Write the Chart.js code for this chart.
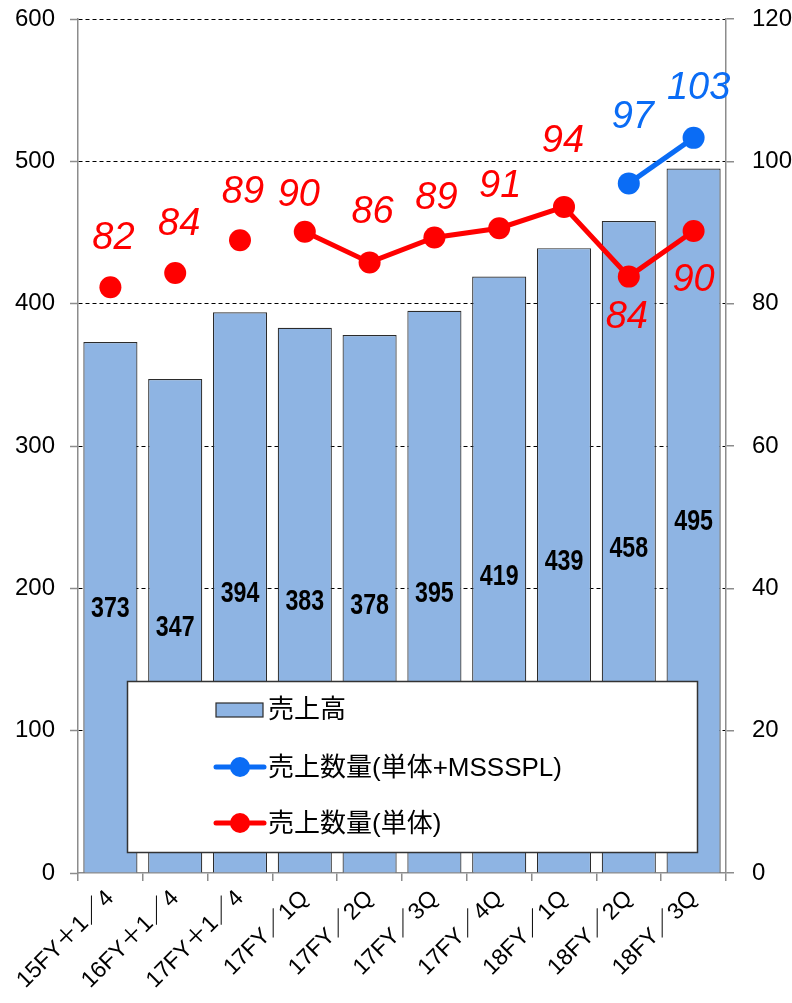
<!DOCTYPE html>
<html><head><meta charset="utf-8">
<script src="https://cdn.jsdelivr.net/npm/chart.js@4/dist/chart.umd.min.js"></script>
<style>html,body{margin:0;padding:0;background:#fff}canvas{display:block}</style>
</head><body>
<canvas id="c" width="792" height="1003" style="width:792px;height:1003px"></canvas>
<script>
// ---- data ----
const categories = ['15FY＋1／4','16FY＋1／4','17FY＋1／4','17FY／1Q','17FY／2Q','17FY／3Q','17FY／4Q','18FY／1Q','18FY／2Q','18FY／3Q'];
const salesAmount = [373, 347, 394, 383, 378, 395, 419, 439, 458, 495];
const qtyWithMSSSPL = [null, null, null, null, null, null, null, null, 96.9, 103.3];
const qtySingle = [82.3, 84.3, 88.9, 90.1, 85.8, 89.3, 90.6, 93.6, 83.8, 90.2];
const leftTicks = [0, 100, 200, 300, 400, 500, 600];
const rightTicks = [0, 20, 40, 60, 80, 100, 120];
const seriesNames = ['売上高', '売上数量(単体+MSSSPL)', '売上数量(単体)'];

// ---- styles ----
const BAR_COLOR = '#8EB4E3';
const BLUE = '#0A6CF5';
const RED = '#FF0000';
const AXIS_GRAY = '#8c8c8c';
const LATIN = '"Liberation Sans", "Noto Sans CJK JP", sans-serif';
Chart.defaults.font.family = LATIN;
Chart.defaults.color = '#000';

// label offsets (dx, dy) relative to point, per dataset index
const lineLabelOffsets = {
  1: [null,null,null,null,null,null,null,null,[4,-66],[5,-49]],
  2: [[3,-49],[4,-49],[3,-48],[-6,-36],[3,-50],[2,-39],[1,-42],[-1,-65],[-2,41],[0,49]]
};

const labelPlugin = {
  id: 'labels',
  afterDatasetsDraw(chart) {
    const ctx = chart.ctx;
    const area = chart.chartArea;
    // bar value labels
    const barMeta = chart.getDatasetMeta(0);
    ctx.save();
    ctx.fillStyle = '#000';
    ctx.font = 'bold 29px "Liberation Sans Narrow", "Liberation Sans", sans-serif';
    ctx.textAlign = 'center';
    ctx.textBaseline = 'middle';
    barMeta.data.forEach((bar, i) => {
      const y = (bar.y + bar.base) / 2 + 2;
      ctx.save();
      ctx.translate(bar.x, y);
      ctx.scale(0.8, 1);
      ctx.fillText(String(chart.data.datasets[0].data[i]), 0, 0);
      ctx.restore();
    });
    ctx.restore();

    // line value labels
    [1, 2].forEach(di => {
      const ds = chart.data.datasets[di];
      const meta = chart.getDatasetMeta(di);
      ctx.save();
      ctx.fillStyle = ds.borderColor;
      ctx.font = 'italic 38px "Liberation Sans", sans-serif';
      ctx.textAlign = 'center';
      ctx.textBaseline = 'middle';
      meta.data.forEach((pt, i) => {
        const v = ds.data[i];
        if (v === null || v === undefined) return;
        const off = lineLabelOffsets[di][i] || [0, -48];
        ctx.fillText(String(Math.round(v)), pt.x + off[0], pt.y + off[1]);
      });
      ctx.restore();
    });

    // legend box
    const bx = area.left + 49.5, by = area.top + 662.5, bw = 570, bh = 171;
    ctx.save();
    ctx.fillStyle = '#fff';
    ctx.fillRect(bx, by, bw, bh);
    ctx.strokeStyle = '#333';
    ctx.lineWidth = 1.5;
    ctx.strokeRect(bx, by, bw, bh);
    const sx = area.left + 138, tx = area.left + 190;
    const rows = [area.top + 691, area.top + 748, area.top + 804];
    ctx.font = '26px ' + LATIN;
    ctx.textAlign = 'left';
    ctx.textBaseline = 'middle';
    // bar swatch
    ctx.fillStyle = BAR_COLOR;
    ctx.fillRect(sx, rows[0] - 7, 47, 14);
    ctx.strokeStyle = '#2b2b2b';
    ctx.lineWidth = 1.2;
    ctx.strokeRect(sx, rows[0] - 7, 47, 14);
    ctx.fillStyle = '#000';
    ctx.fillText(chart.data.datasets[0].label, tx, rows[0] + 1);
    [1, 2].forEach((di, k) => {
      const col = chart.data.datasets[di].borderColor;
      const y = rows[k + 1];
      ctx.strokeStyle = col;
      ctx.lineWidth = 5;
      ctx.lineCap = 'round';
      ctx.beginPath();
      ctx.moveTo(sx, y);
      ctx.lineTo(sx + 48, y);
      ctx.stroke();
      ctx.fillStyle = col;
      ctx.beginPath();
      ctx.arc(sx + 24, y, 10, 0, Math.PI * 2);
      ctx.fill();
      ctx.fillStyle = '#000';
      ctx.fillText(chart.data.datasets[di].label, tx, y + 2);
    });
    ctx.restore();
  }
};

function fixVertical(width) {
  return s => { s.width = width; s.paddingTop = 0; s.paddingBottom = 0; };
}

new Chart(document.getElementById('c'), {
  data: {
    labels: categories,
    datasets: [
      { type: 'bar', label: seriesNames[0], data: salesAmount, yAxisID: 'y', order: 3,
        backgroundColor: BAR_COLOR, borderColor: '#2b2b2b', borderWidth: 1.2,
        barPercentage: 0.835, categoryPercentage: 1 },
      { type: 'line', label: seriesNames[1], data: qtyWithMSSSPL, yAxisID: 'y1', order: 1,
        borderColor: BLUE, backgroundColor: BLUE, borderWidth: 5,
        pointRadius: 11, pointHoverRadius: 11, pointBorderWidth: 0, spanGaps: false },
      { type: 'line', label: seriesNames[2], data: qtySingle, yAxisID: 'y1', order: 2,
        borderColor: RED, backgroundColor: RED, borderWidth: 5,
        pointRadius: 11, pointHoverRadius: 11, pointBorderWidth: 0,
        segment: { borderColor: c => c.p0DataIndex < 3 ? 'rgba(0,0,0,0)' : undefined } }
    ]
  },
  options: {
    responsive: false,
    animation: false,
    layout: { padding: { top: 19, left: 0, right: 0, bottom: 0 } },
    plugins: { legend: { display: false }, tooltip: { enabled: false } },
    scales: {
      x: {
        offset: true,
        afterFit: s => { s.height = 130; s.paddingLeft = 0; s.paddingRight = 0; },
        grid: { display: true, drawOnChartArea: false, drawTicks: true, tickLength: 8,
                color: AXIS_GRAY, tickColor: AXIS_GRAY, offset: true, lineWidth: 1.5 },
        border: { display: true, color: AXIS_GRAY, width: 1.5 },
        ticks: { minRotation: 45, maxRotation: 45, autoSkip: false, padding: 4,
                 font: { size: 23 }, color: '#000' }
      },
      y: {
        position: 'left', min: 0, max: 600,
        afterFit: fixVertical(78),
        afterBuildTicks: s => { s.ticks = leftTicks.map(v => ({ value: v })); },
        grid: { color: c => (c.tick && c.tick.value === 0) ? 'rgba(0,0,0,0)' : '#000',
                lineWidth: 1, drawTicks: true, tickLength: 8, tickColor: AXIS_GRAY,
                tickBorderDash: [], tickWidth: 1.5 },
        border: { display: true, color: AXIS_GRAY, width: 1.5, dash: [4, 3] },
        ticks: { padding: 15, font: { size: 24 }, color: '#000' }
      },
      y1: {
        position: 'right', min: 0, max: 120,
        afterFit: fixVertical(66),
        afterBuildTicks: s => { s.ticks = rightTicks.map(v => ({ value: v })); },
        grid: { drawOnChartArea: false, drawTicks: true, tickLength: 8, color: AXIS_GRAY,
                tickColor: AXIS_GRAY, lineWidth: 1.5 },
        border: { display: true, color: AXIS_GRAY, width: 1.5 },
        ticks: { padding: 18, font: { size: 24 }, color: '#000' }
      }
    }
  },
  plugins: [labelPlugin]
});
</script>
</body></html>
